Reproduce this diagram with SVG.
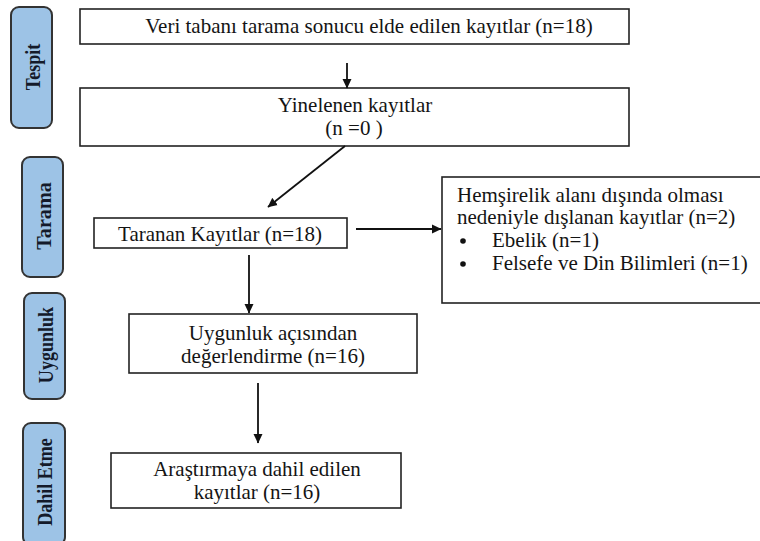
<svg xmlns="http://www.w3.org/2000/svg" width="760" height="541" viewBox="0 0 760 541">
<defs>
<marker id="ah" markerWidth="10" markerHeight="10" refX="9" refY="5" orient="auto" markerUnits="userSpaceOnUse">
<path d="M0,0.5 L9.5,5 L0,9.5 Z" fill="#111"/>
</marker>
<style>
.bg{fill:#ffffff}
.box{fill:#ffffff;stroke:#222;stroke-width:1.6}
.pill{fill:#9dc3e6;stroke:#333;stroke-width:2}
.t{font-family:"Liberation Serif","Times New Roman",serif;font-size:21px;fill:#141414}
.c{text-anchor:middle}
.lab{font-family:"Liberation Serif","Times New Roman",serif;font-size:21px;font-weight:bold;fill:#141a2a;text-anchor:middle;dominant-baseline:central}
.con{stroke:#111;stroke-width:1.8;fill:none;marker-end:url(#ah)}
</style>
</defs>
<rect class="bg" x="0" y="0" width="760" height="541"/>

<g id="stage-tespit">
<rect class="pill" x="11" y="7" width="41" height="121" rx="8"/>
<text class="lab" transform="translate(33,67) rotate(-90) scale(0.86,1)">Tespit</text>
</g>
<g id="stage-tarama">
<rect class="pill" x="22" y="157" width="41" height="120" rx="8"/>
<text class="lab" transform="translate(44,216) rotate(-90) scale(0.96,1)">Tarama</text>
</g>
<g id="stage-uygunluk">
<rect class="pill" x="24" y="293" width="41" height="106" rx="8"/>
<text class="lab" transform="translate(46,345) rotate(-90) scale(0.86,1)">Uygunluk</text>
</g>
<g id="stage-dahil">
<rect class="pill" x="23" y="423" width="42" height="122" rx="8"/>
<text class="lab" transform="translate(45,482) rotate(-90) scale(0.86,1)">Dahil Etme</text>
</g>

<g id="n1">
<rect class="box" x="80" y="9" width="549" height="35"/>
<text class="t c" x="369" y="33">Veri tabanı tarama sonucu elde edilen kayıtlar (n=18)</text>
</g>
<g id="n2">
<rect class="box" x="80" y="88" width="549" height="58"/>
<text class="t c" x="355" y="112">Yinelenen kayıtlar</text>
<text class="t c" x="354" y="135">(n =0 )</text>
</g>
<g id="n3">
<rect class="box" x="94" y="218" width="253" height="30"/>
<text class="t c" x="220" y="241">Taranan Kayıtlar (n=18)</text>
</g>
<g id="n4">
<rect class="box" x="442" y="177" width="322" height="126"/>
<text class="t" x="457" y="202">Hemşirelik alanı dışında olması</text>
<text class="t" x="457" y="224">nedeniyle dışlanan kayıtlar (n=2)</text>
<circle cx="463" cy="241" r="2.8" fill="#111"/>
<text class="t" x="492" y="247">Ebelik (n=1)</text>
<circle cx="463" cy="264" r="2.8" fill="#111"/>
<text class="t" x="492" y="270">Felsefe ve Din Bilimleri (n=1)</text>
</g>
<g id="n5">
<rect class="box" x="129" y="314" width="288" height="59"/>
<text class="t c" x="273" y="340">Uygunluk açısından</text>
<text class="t c" x="273" y="363">değerlendirme (n=16)</text>
</g>
<g id="n6">
<rect class="box" x="111" y="453" width="290" height="55"/>
<text class="t c" x="257" y="476">Araştırmaya dahil edilen</text>
<text class="t c" x="257" y="499">kayıtlar (n=16)</text>
</g>

<g id="connectors">
<line class="con" x1="347" y1="63" x2="347" y2="88"/>
<line class="con" x1="345" y1="146" x2="268" y2="207"/>
<line class="con" x1="356" y1="229" x2="441" y2="229"/>
<line class="con" x1="249" y1="255" x2="249" y2="313"/>
<line class="con" x1="258" y1="383" x2="258" y2="443"/>
</g>
</svg>
